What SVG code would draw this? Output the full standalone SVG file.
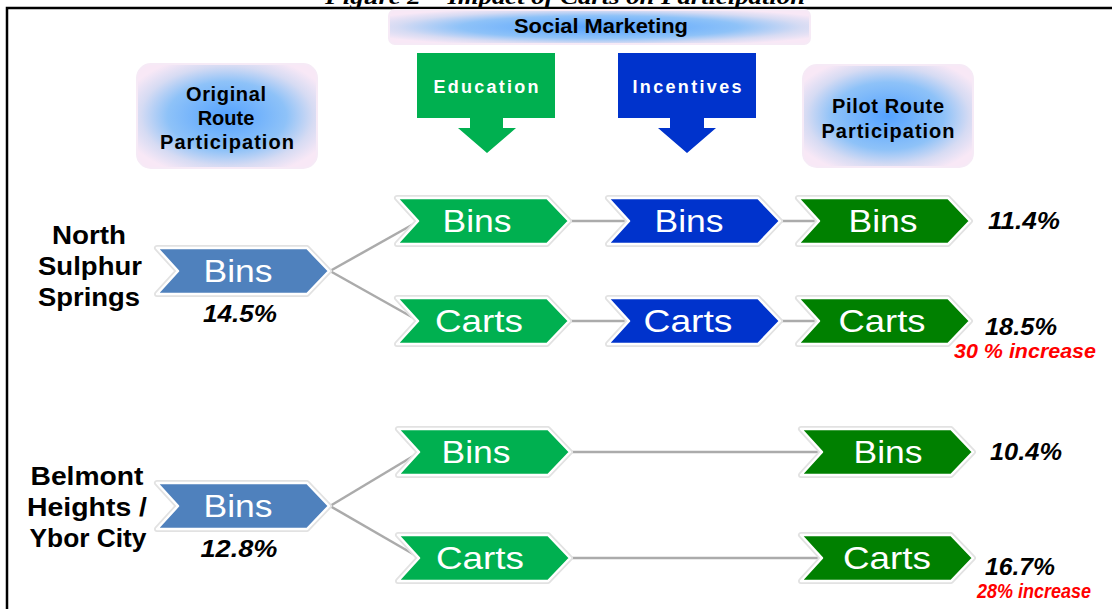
<svg xmlns="http://www.w3.org/2000/svg" xmlns:xlink="http://www.w3.org/1999/xlink" width="1112" height="609" viewBox="0 0 1112 609">
  <defs>
    <style>
      .head { font-family: "Liberation Sans", Arial, sans-serif; font-weight: bold; font-size: 20px; fill: #000; text-anchor: middle; }
      .site { font-family: "Liberation Sans", Arial, sans-serif; font-weight: bold; font-size: 26px; fill: #000; text-anchor: middle; }
      .chevtxt { font-family: "Liberation Sans", Arial, sans-serif; font-size: 32px; fill: #fff; text-anchor: middle; }
      .pct { font-family: "Liberation Sans", Arial, sans-serif; font-weight: bold; font-style: italic; font-size: 24px; fill: #000; text-anchor: middle; }
      .inc { font-family: "Liberation Sans", Arial, sans-serif; font-weight: bold; font-style: italic; font-size: 20px; fill: #ff0000; text-anchor: middle; }
      .boxtxt { font-family: "Liberation Sans", Arial, sans-serif; font-weight: bold; font-size: 18px; fill: #fff; text-anchor: middle; }
      .halo { fill: none; stroke: #e2e2e2; stroke-width: 6; stroke-linejoin: round; }
      .shape { stroke: #fff; stroke-width: 2.5; stroke-linejoin: round; }
      .orig { fill: #4f81bd; }
      .edu { fill: #00b050; }
      .incv { fill: #0033cc; }
      .pilot { fill: #008000; }
      .glow { fill: url(#glowFill); stroke: #f6eaf6; stroke-width: 2; }
      .conn { stroke: #ababab; stroke-width: 2.5; fill: none; }
    </style>
    <radialGradient id="glowFill" cx="0.5" cy="0.5" r="0.6">
      <stop offset="0" stop-color="#54a2ff"/>
      <stop offset="0.55" stop-color="#8ec2f8"/>
      <stop offset="0.8" stop-color="#d6dbf3"/>
      <stop offset="1" stop-color="#f8e8f6"/>
    </radialGradient>
    <path id="chev" d="M0,-23 H150 L172,0 L150,23 H0 L21,0 Z"/>
  </defs>

  <rect width="1112" height="609" fill="#fff"/>

  <!-- figure caption, partly cut off by the page edge -->
  <text x="565" y="4" font-family="'Liberation Serif', 'Times New Roman', serif" font-weight="bold" font-style="italic" font-size="22" text-anchor="middle" textLength="480" lengthAdjust="spacingAndGlyphs">Figure 2 – Impact of Carts on Participation</text>

  <!-- frame -->
  <path d="M7,609 V8 H1112" fill="none" stroke="#000" stroke-width="2.5"/>

  <!-- column headers -->
  <g id="social-marketing">
    <rect class="glow" x="389" y="10" width="421" height="34" rx="6"/>
    <text class="head" x="601" y="33" font-size="17" textLength="174" lengthAdjust="spacingAndGlyphs">Social Marketing</text>
  </g>
  <g id="original-participation">
    <rect class="glow" x="137" y="64" width="180" height="104" rx="14"/>
    <text class="head" x="226" y="101" textLength="80" lengthAdjust="spacing">Original</text>
    <text class="head" x="226" y="125">Route</text>
    <text class="head" x="227" y="149" textLength="134" lengthAdjust="spacing">Participation</text>
  </g>
  <g id="pilot-participation">
    <rect class="glow" x="803" y="65" width="170" height="102" rx="14"/>
    <text class="head" x="888" y="113" textLength="112" lengthAdjust="spacing">Pilot Route</text>
    <text class="head" x="888" y="138" textLength="133" lengthAdjust="spacing">Participation</text>
  </g>
  <g id="education">
    <path class="edu" d="M417,53 H555 V118 H503 V128 H516 L487,153 L458,128 H470 V118 H417 Z"/>
    <text class="boxtxt" x="486" y="93" textLength="105" lengthAdjust="spacing">Education</text>
  </g>
  <g id="incentives">
    <path class="incv" d="M618,53 H756 V118 H704 V128 H716 L687,153 L658,128 H670 V118 H618 Z"/>
    <text class="boxtxt" x="687" y="93" textLength="109" lengthAdjust="spacing">Incentives</text>
  </g>

  <!-- connectors -->
  <g id="connectors">
    <line class="conn" x1="330" y1="271" x2="419" y2="221"/>
    <line class="conn" x1="330" y1="271" x2="419" y2="321"/>
    <line class="conn" x1="568" y1="221" x2="630" y2="221"/>
    <line class="conn" x1="778" y1="221" x2="820" y2="221"/>
    <line class="conn" x1="568" y1="321" x2="630" y2="321"/>
    <line class="conn" x1="778" y1="321" x2="820" y2="321"/>
    <line class="conn" x1="330" y1="506" x2="420" y2="452"/>
    <line class="conn" x1="330" y1="506" x2="420" y2="558"/>
    <line class="conn" x1="569" y1="452" x2="823" y2="452"/>
    <line class="conn" x1="569" y1="558" x2="823" y2="558"/>
  </g>

  <!-- North Sulphur Springs -->
  <g id="north-sulphur-springs">
    <text class="site" x="89" y="244" textLength="74" lengthAdjust="spacingAndGlyphs">North</text>
    <text class="site" x="90" y="275" textLength="104" lengthAdjust="spacingAndGlyphs">Sulphur</text>
    <text class="site" x="89" y="306" textLength="102" lengthAdjust="spacingAndGlyphs">Springs</text>
  </g>
  <g id="nss-original-bins">
    <use href="#chev" class="halo" x="157" y="271"/>
    <use href="#chev" class="shape orig" x="157" y="271"/>
    <text class="chevtxt" x="238" y="282" textLength="69" lengthAdjust="spacingAndGlyphs">Bins</text>
    <text class="pct" x="240" y="322" textLength="74" lengthAdjust="spacingAndGlyphs">14.5%</text>
  </g>
  <g id="nss-education-bins">
    <use href="#chev" class="halo" x="397" y="221"/>
    <use href="#chev" class="shape edu" x="397" y="221"/>
    <text class="chevtxt" x="477" y="232" textLength="69" lengthAdjust="spacingAndGlyphs">Bins</text>
  </g>
  <g id="nss-education-carts">
    <use href="#chev" class="halo" x="397" y="321"/>
    <use href="#chev" class="shape edu" x="397" y="321"/>
    <text class="chevtxt" x="479" y="332" textLength="88" lengthAdjust="spacingAndGlyphs">Carts</text>
  </g>
  <g id="nss-incentives-bins">
    <use href="#chev" class="halo" x="608" y="221"/>
    <use href="#chev" class="shape incv" x="608" y="221"/>
    <text class="chevtxt" x="689" y="232" textLength="69" lengthAdjust="spacingAndGlyphs">Bins</text>
  </g>
  <g id="nss-incentives-carts">
    <use href="#chev" class="halo" x="608" y="321"/>
    <use href="#chev" class="shape incv" x="608" y="321"/>
    <text class="chevtxt" x="688" y="332" textLength="89" lengthAdjust="spacingAndGlyphs">Carts</text>
  </g>
  <g id="nss-pilot-bins">
    <use href="#chev" class="halo" x="798" y="221"/>
    <use href="#chev" class="shape pilot" x="798" y="221"/>
    <text class="chevtxt" x="883" y="232" textLength="69" lengthAdjust="spacingAndGlyphs">Bins</text>
    <text class="pct" x="1024" y="229" textLength="72" lengthAdjust="spacingAndGlyphs">11.4%</text>
  </g>
  <g id="nss-pilot-carts">
    <use href="#chev" class="halo" x="798" y="321"/>
    <use href="#chev" class="shape pilot" x="798" y="321"/>
    <text class="chevtxt" x="882" y="332" textLength="87" lengthAdjust="spacingAndGlyphs">Carts</text>
    <text class="pct" x="1021" y="335" textLength="72" lengthAdjust="spacingAndGlyphs">18.5%</text>
    <text class="inc" x="1025" y="358" textLength="142" lengthAdjust="spacingAndGlyphs">30 % increase</text>
  </g>

  <!-- Belmont Heights / Ybor City -->
  <g id="belmont-heights-ybor-city">
    <text class="site" x="87" y="485" textLength="113" lengthAdjust="spacingAndGlyphs">Belmont</text>
    <text class="site" x="87" y="516" textLength="120" lengthAdjust="spacingAndGlyphs">Heights /</text>
    <text class="site" x="88" y="547" textLength="117" lengthAdjust="spacingAndGlyphs">Ybor City</text>
  </g>
  <g id="bh-original-bins">
    <use href="#chev" class="halo" x="157" y="506"/>
    <use href="#chev" class="shape orig" x="157" y="506"/>
    <text class="chevtxt" x="238" y="517" textLength="69" lengthAdjust="spacingAndGlyphs">Bins</text>
    <text class="pct" x="239" y="557" textLength="77" lengthAdjust="spacingAndGlyphs">12.8%</text>
  </g>
  <g id="bh-education-bins">
    <use href="#chev" class="halo" x="398" y="452"/>
    <use href="#chev" class="shape edu" x="398" y="452"/>
    <text class="chevtxt" x="476" y="463" textLength="69" lengthAdjust="spacingAndGlyphs">Bins</text>
  </g>
  <g id="bh-education-carts">
    <use href="#chev" class="halo" x="398" y="558"/>
    <use href="#chev" class="shape edu" x="398" y="558"/>
    <text class="chevtxt" x="480" y="569" textLength="88" lengthAdjust="spacingAndGlyphs">Carts</text>
  </g>
  <g id="bh-pilot-bins">
    <use href="#chev" class="halo" x="801" y="452"/>
    <use href="#chev" class="shape pilot" x="801" y="452"/>
    <text class="chevtxt" x="888" y="463" textLength="69" lengthAdjust="spacingAndGlyphs">Bins</text>
    <text class="pct" x="1026" y="460" textLength="72" lengthAdjust="spacingAndGlyphs">10.4%</text>
  </g>
  <g id="bh-pilot-carts">
    <use href="#chev" class="halo" x="801" y="558"/>
    <use href="#chev" class="shape pilot" x="801" y="558"/>
    <text class="chevtxt" x="887" y="569" textLength="88" lengthAdjust="spacingAndGlyphs">Carts</text>
    <text class="pct" x="1020" y="575" textLength="70" lengthAdjust="spacingAndGlyphs">16.7%</text>
    <text class="inc" x="1034" y="598" textLength="114" lengthAdjust="spacingAndGlyphs">28% increase</text>
  </g>
</svg>
